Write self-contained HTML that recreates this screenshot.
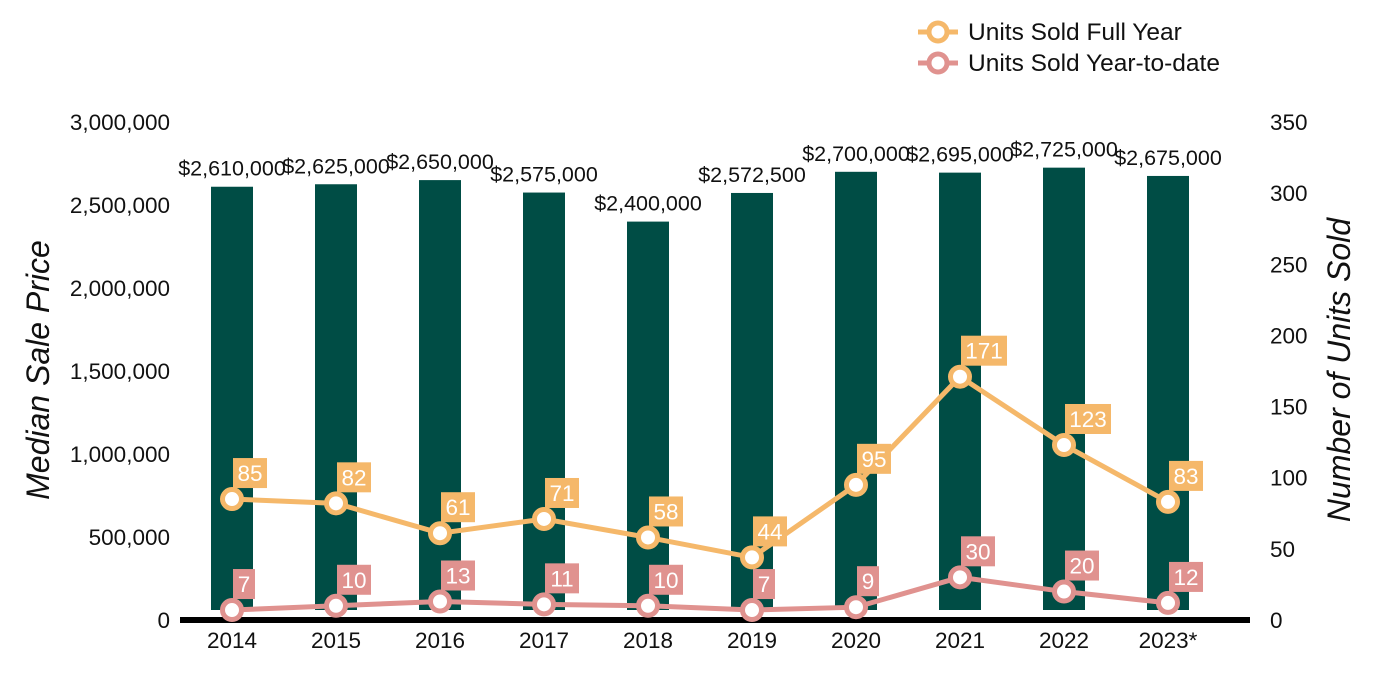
<!DOCTYPE html>
<html><head><meta charset="utf-8"><style>
body{margin:0;background:#fff;}
svg{display:block;font-family:"Liberation Sans",Arial,sans-serif;}
</style></head><body>
<svg id="chart" width="1400" height="700"></svg>
<script>
const years=["2014","2015","2016","2017","2018","2019","2020","2021","2022","2023*"];
const prices=[2610000,2625000,2650000,2575000,2400000,2572500,2700000,2695000,2725000,2675000];
const fullYear=[85,82,61,71,58,44,95,171,123,83];
const ytd=[7,10,13,11,10,7,9,30,20,12];
const leftTicks=[0,500000,1000000,1500000,2000000,2500000,3000000];
const rightTicks=[0,50,100,150,200,250,300,350];

const svg=document.getElementById('chart');
const NS='http://www.w3.org/2000/svg';
const y0=620,yTop=122;
const yL=v=>y0-v/3000000*(y0-yTop);
const yR=v=>y0-v/350*(y0-yTop);
const xC=i=>232+i*104;
function mk(t,a,p){const e=document.createElementNS(NS,t);for(const k in a)e.setAttribute(k,a[k]);(p||svg).appendChild(e);return e;}
const fmt=n=>n.toLocaleString('en-US');

leftTicks.forEach(v=>{const t=mk('text',{x:170,y:yL(v)+8,'text-anchor':'end','font-size':22.5,fill:'#111'});t.textContent=fmt(v);

});
rightTicks.forEach(v=>{const t=mk('text',{x:1270,y:yR(v)+8,'font-size':22.5,fill:'#111'});t.textContent=v;

});

let t=mk('text',{transform:'translate(49,370) rotate(-90)','text-anchor':'middle','font-size':32,'font-style':'italic',fill:'#111'});t.textContent='Median Sale Price';

t=mk('text',{transform:'translate(1350,370) rotate(-90)','text-anchor':'middle','font-size':32,'font-style':'italic',fill:'#111'});t.textContent='Number of Units Sold';


prices.forEach((v,i)=>{
 const r=mk('rect',{x:xC(i)-21,y:yL(v),width:42,height:610-yL(v),fill:'#004d45'});
 
 
 const l=mk('text',{x:xC(i),y:yL(v)-11,'text-anchor':'middle','font-size':21.5,fill:'#111'});l.textContent='$'+fmt(v);
 
 
});

const ax=mk('rect',{x:180,y:617,width:1070,height:6,fill:'#000'});

years.forEach((y,i)=>{const l=mk('text',{x:xC(i),y:648,'text-anchor':'middle','font-size':22.5,fill:'#111'});l.textContent=y;

});

function series(vals,color,name){
 const pl=mk('polyline',{points:vals.map((v,i)=>xC(i)+','+yR(v)).join(' '),fill:'none',stroke:color,'stroke-width':5});
 
 
 vals.forEach((v,i)=>{
  const c=mk('circle',{cx:xC(i),cy:yR(v),r:9.5,fill:'#fff',stroke:color,'stroke-width':5});
  
  
  const w=String(v).length*12+10;
  const b=mk('rect',{x:xC(i)+1,y:yR(v)-41,width:w,height:30,fill:color});
  
  
  const l=mk('text',{x:xC(i)+1+w/2,y:yR(v)-18,'text-anchor':'middle','font-size':22.5,fill:'#fff'});l.textContent=v;
  
  
 });
}
series(fullYear,'#f5b86a','full-year');
series(ytd,'#e0928f','ytd');

[['Units Sold Full Year','#f5b86a',32],['Units Sold Year-to-date','#e0928f',63]].forEach(([txt,c,y])=>{
 const g=mk('g',{});
 
 
 mk('line',{x1:918,x2:958,y1:y,y2:y,stroke:c,'stroke-width':5},g);
 mk('circle',{cx:938,cy:y,r:9,fill:'#fff',stroke:c,'stroke-width':5},g);
 const l=mk('text',{x:968,y:y+8,'font-size':24.5,fill:'#111'},g);l.textContent=txt;
});
</script>
</body></html>
